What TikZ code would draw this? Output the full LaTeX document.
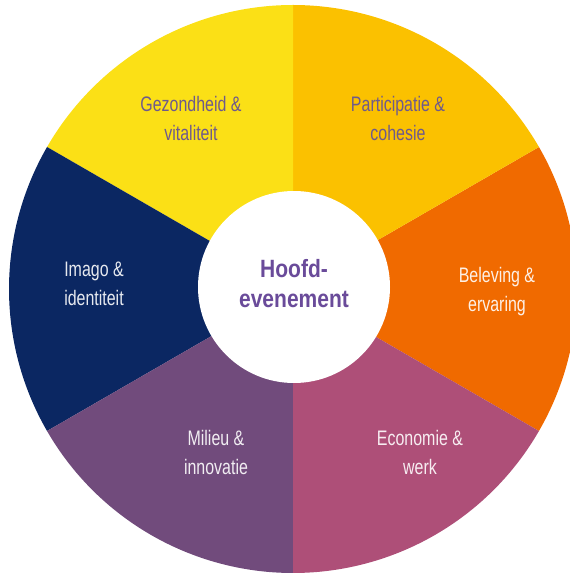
\documentclass[tikz,border=0pt]{standalone}
\usepackage{fontspec}
\setmainfont{Liberation Sans}[FakeStretch=0.76]
\newfontfamily\centerfont{Liberation Sans}[FakeStretch=0.84]
\definecolor{cGez}{HTML}{FBE016}
\definecolor{cPart}{HTML}{FBC100}
\definecolor{cBel}{HTML}{F06A00}
\definecolor{cEco}{HTML}{AE4F78}
\definecolor{cMil}{HTML}{714B7C}
\definecolor{cIma}{HTML}{0B2762}
\definecolor{cTxtY}{HTML}{6E5A8C}
\definecolor{cCenter}{HTML}{6A4B9A}
\begin{document}
\begin{tikzpicture}[x=1pt,y=1pt,
  lbl/.style={align=center,anchor=base,inner sep=0pt,font=\fontsize{21}{29}\selectfont},
  lbllight/.style={lbl,text=white,text opacity=0.9},
  lbldark/.style={lbl,text=cTxtY}]
\useasboundingbox (0,0) rectangle (570,576);
\clip (0,0) rectangle (570,576);
\coordinate (C) at (293,287);
\def\R{284pt}
\fill[cBel]  (C) -- ++(-30:\R) arc[start angle=-30, end angle=30, radius=\R] -- cycle;
\fill[cPart] (C) -- ++(30:\R) arc[start angle=30, end angle=90, radius=\R] -- cycle;
\fill[cGez]  (C) -- ++(90:\R) arc[start angle=90, end angle=150, radius=\R] -- cycle;
\fill[cIma]  (C) -- ++(150:\R) arc[start angle=150, end angle=210, radius=\R] -- cycle;
\fill[cMil]  (C) -- ++(210:\R) arc[start angle=210, end angle=270, radius=\R] -- cycle;
\fill[cEco]  (C) -- ++(270:\R) arc[start angle=270, end angle=330, radius=\R] -- cycle;
\node[circle,fill=white,minimum size=192pt,inner sep=0pt] (hub) at (294,289) {};
\node[align=center,anchor=base,inner sep=0pt,text=cCenter,
  font=\centerfont\bfseries\fontsize{25}{30}\selectfont] (hoofd) at (294,268) {Hoofd-\\evenement};
\node[lbldark] (gez) at (191,435) {Gezondheid \&\\vitaliteit};
\node[lbldark] (part) at (398,435) {Participatie \&\\cohesie};
\node[lbllight] (ima) at (94,270) {Imago \&\\identiteit};
\node[lbllight] (bel) at (497,264) {Beleving \&\\ervaring};
\node[lbllight] (mil) at (216,101) {Milieu \&\\innovatie};
\node[lbllight] (eco) at (420,101) {Economie \&\\werk};
\end{tikzpicture}
\end{document}
